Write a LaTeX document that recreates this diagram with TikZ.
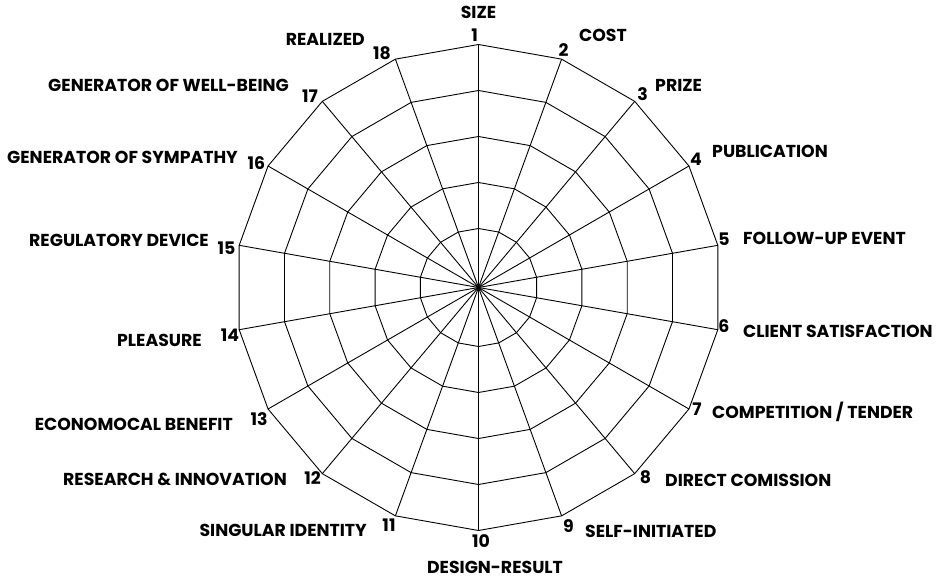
\documentclass[tikz,border=0pt]{standalone}
\usepackage{fontspec}
\setmainfont{Poppins Bold}
\usetikzlibrary{calc}
\begin{document}
\begin{tikzpicture}[x=1pt,y=-1pt,
  grid/.style={line width=0.9pt, black, line join=miter},
  lbl/.style={font=\fontsize{17.3}{18}\selectfont, inner sep=0pt, text height=12.2pt, text depth=0pt},
  num/.style={lbl, anchor=center}]
\useasboundingbox (0,0) rectangle (938,580);
\coordinate (c) at (478.5,287.5);
\foreach \i in {1,...,18} {
  \coordinate (v\i) at ($(c)+({90-(\i-1)*20}:243pt)$);
}
\foreach \rr in {59,105,151,197,243} {
  \draw[grid] ($(c)+(90:\rr pt)$) \foreach \k in {1,...,17}{ -- ($(c)+({90-\k*20}:\rr pt)$)} -- cycle;
}
\foreach \i in {1,...,18} { \draw[grid] (c) -- (v\i); }
% numbers
\node[num] (n1) at (474.5,35) {1};
\node[num] (n2) at (563.5,50) {2};
\node[num] (n3) at (642.5,94.5) {3};
\node[num] (n4) at (696,159.5) {4};
\node[num] (n5) at (724,239.5) {5};
\node[num] (n6) at (724,326.5) {6};
\node[num] (n7) at (697,409) {7};
\node[num] (n8) at (645.5,477) {8};
\node[num] (n9) at (568.5,526) {9};
\node[num] (n10) at (481,541) {10};
\node[num] (n11) at (389,525.5) {11};
\node[num] (n12) at (312.5,478.5) {12};
\node[num] (n13) at (259,419) {13};
\node[num] (n14) at (230,335.5) {14};
\node[num] (n15) at (226.5,248) {15};
\node[num] (n16) at (256.5,163.5) {16};
\node[num] (n17) at (310,96.5) {17};
\node[num] (n18) at (382,53) {18};
% labels
\node[lbl, anchor=center] (l1) at (478.5,12.5) {SIZE};
\node[lbl, anchor=west] (l2) at (579,35.5) {COST};
\node[lbl, anchor=west] (l3) at (655,85.5) {PRIZE};
\node[lbl, anchor=west] (l4) at (712,151.5) {PUBLICATION};
\node[lbl, anchor=west] (l5) at (743,238.5) {FOLLOW-UP EVENT};
\node[lbl, anchor=west] (l6) at (743,331.5) {CLIENT SATISFACTION};
\node[lbl, anchor=west] (l7) at (712,412.5) {COMPETITION / TENDER};
\node[lbl, anchor=west] (l8) at (665,480) {DIRECT COMISSION};
\node[lbl, anchor=west] (l9) at (585,531) {SELF-INITIATED};
\node[lbl, anchor=center] (l10) at (495,567) {DESIGN-RESULT};
\node[lbl, anchor=east] (l11) at (367,530.5) {SINGULAR IDENTITY};
\node[lbl, anchor=east] (l12) at (287,479.5) {RESEARCH \& INNOVATION};
\node[lbl, anchor=east] (l13) at (233,424) {ECONOMOCAL BENEFIT};
\node[lbl, anchor=east] (l14) at (202,340.5) {PLEASURE};
\node[lbl, anchor=east] (l15) at (209,240.5) {REGULATORY DEVICE};
\node[lbl, anchor=east] (l16) at (238,157.5) {GENERATOR OF SYMPATHY};
\node[lbl, anchor=east] (l17) at (289,85.5) {GENERATOR OF WELL-BEING};
\node[lbl, anchor=east] (l18) at (365,39.5) {REALIZED};
\end{tikzpicture}
\end{document}
